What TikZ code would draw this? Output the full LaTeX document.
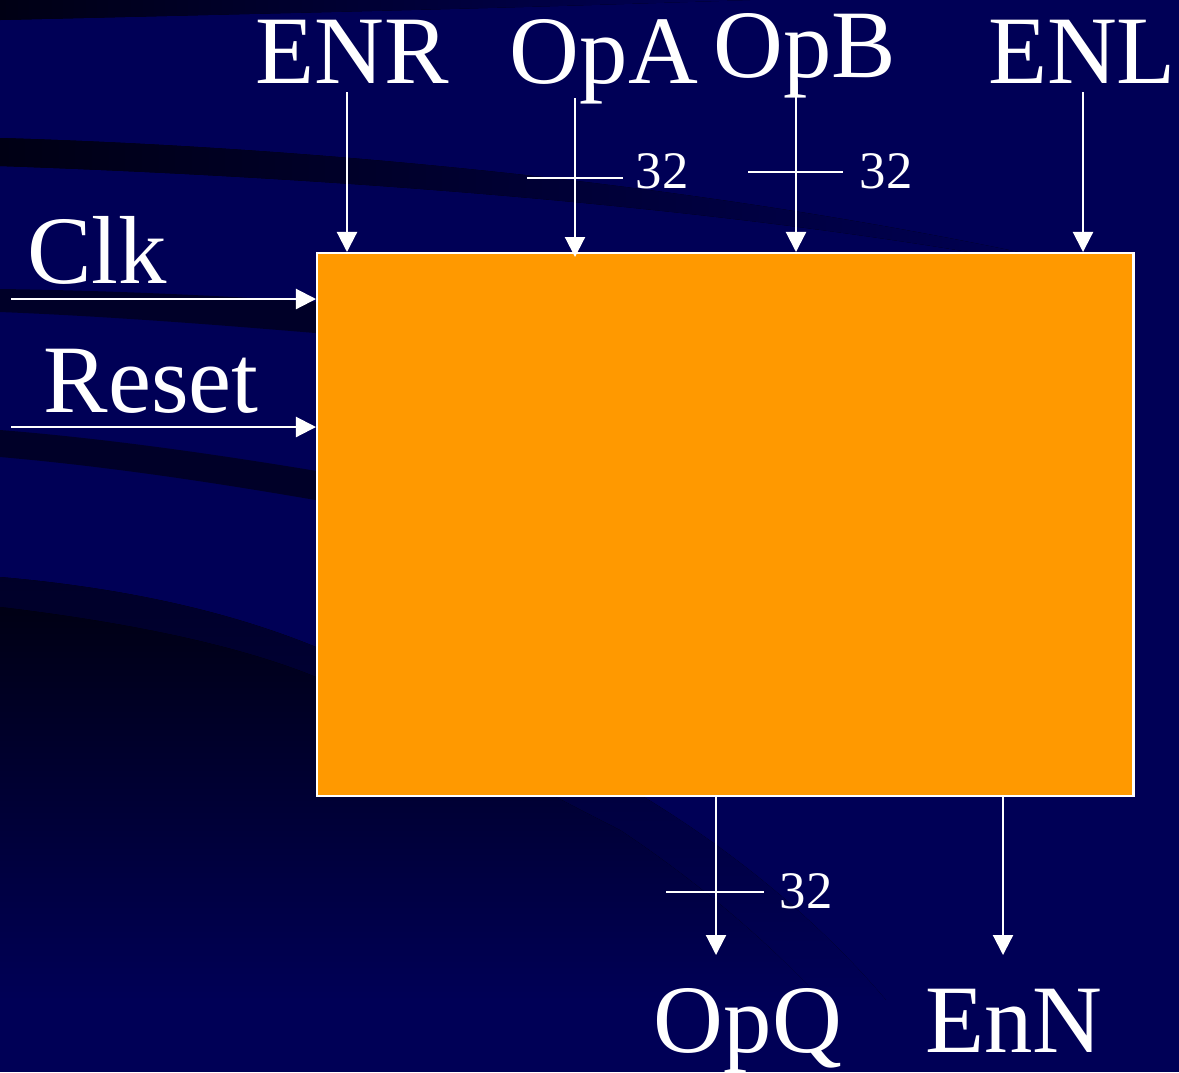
\documentclass[tikz,border=0pt]{standalone}
\usepackage{fontspec}
\setmainfont{Liberation Serif}
\usetikzlibrary{arrows.meta}
\definecolor{bgnavy}{RGB}{0,0,86}
\definecolor{darknavy}{RGB}{0,0,40}
\definecolor{deepnavy}{RGB}{0,0,20}
\definecolor{boxorange}{RGB}{255,153,0}
\tikzset{
  sig/.style={draw=white, line width=0.6pt, -{Triangle[length=0.2cm,width=0.2cm]}},
  buswidth/.style={draw=white, line width=0.6pt},
  biglabel/.style={text=white, font=\fontsize{27.5}{27.5}\selectfont, anchor=base, inner sep=0pt},
  smalllabel/.style={text=white, font=\fontsize{15}{15}\selectfont, anchor=base, inner sep=0pt},
  block/.style={draw=white, fill=boxorange, line width=0.6pt, inner sep=0pt, anchor=north west},
}
\begin{document}
\begin{tikzpicture}[x=0.01cm, y=-0.01cm]
  \useasboundingbox (0,0) rectangle (1179,1072);
  % background
  \fill[bgnavy] (0,0) rectangle (1179,1072);
  \fill[left color=deepnavy, right color=bgnavy] (0,0) -- (750,0) .. controls (500,8) .. (0,20) -- cycle;
  \fill[left color=deepnavy, right color=bgnavy] (0,138) .. controls (400,150) and (800,200) .. (1100,270) -- (1100,276) .. controls (800,215) and (400,180) .. (0,166) -- cycle;
  \fill[darknavy] (0,289) .. controls (150,291) and (300,300) .. (400,308) -- (400,340) .. controls (300,332) and (150,318) .. (0,312) -- cycle;
  \fill[darknavy] (0,430) .. controls (150,442) and (300,468) .. (400,485) -- (400,515) .. controls (300,497) and (150,470) .. (0,457) -- cycle;
  \begin{scope}
    \clip (0,577) .. controls (150,590) and (250,620) .. (316,647) .. controls (450,700) and (560,760) .. (644,797) .. controls (780,880) and (880,980) .. (940,1072) -- (0,1072) -- cycle;
    \fill[top color=darknavy, bottom color=bgnavy] (0,577) rectangle (1000,1000);
  \end{scope}
  \begin{scope}
    \clip (0,607) .. controls (150,625) and (250,650) .. (316,677) .. controls (450,740) and (560,800) .. (620,830) .. controls (740,910) and (830,1000) .. (880,1072) -- (0,1072) -- cycle;
    \fill[top color=deepnavy, bottom color=bgnavy] (0,607) rectangle (1000,1000);
  \end{scope}

  % block
  \node[block, minimum width=8.16cm, minimum height=5.43cm] (box) at (316,252) {};

  % labels
  \node[biglabel] (enr) at (352,83) {ENR};
  \node[biglabel] (opa) at (604,83) {OpA};
  \node[biglabel] (opb) at (805,77) {OpB};
  \node[biglabel] (enl) at (1082,83) {ENL};
  \node[biglabel] (clk) at (97,283) {Clk};
  \node[biglabel] (reset) at (151,412) {Reset};
  \node[biglabel] (opq) at (748,1052) {OpQ};
  \node[biglabel] (enn) at (1014,1052) {EnN};

  % arrow end points
  \coordinate (enrT) at (347,92);
  \coordinate (opaT) at (575,98);
  \coordinate (opbT) at (796,95);
  \coordinate (enlT) at (1083,92);
  \coordinate (clkT) at (11,299);
  \coordinate (resetT) at (11,427);
  \coordinate (opqT) at (716,955);
  \coordinate (ennT) at (1003,955);

  % inputs
  \draw[sig] (enrT) -- (enrT |- box.north);
  \draw[sig] (opaT) -- ([yshift=-0.05cm]opaT |- box.north);
  \draw[sig] (opbT) -- (opbT |- box.north);
  \draw[sig] (enlT) -- (enlT |- box.north);
  \draw[sig] (clkT) -- (clkT -| box.west);
  \draw[sig] (resetT) -- (resetT -| box.west);
  % outputs
  \draw[sig] (opqT |- box.south) -- (opqT);
  \draw[sig] (ennT |- box.south) -- (ennT);

  % bus width marks
  \coordinate (tA1) at (527,178); \coordinate (tA2) at (623,178);
  \coordinate (tB1) at (748,172); \coordinate (tB2) at (843,172);
  \coordinate (tQ1) at (666,892); \coordinate (tQ2) at (764,892);
  \draw[buswidth] (tA1) -- (tA2);
  \draw[buswidth] (tB1) -- (tB2);
  \draw[buswidth] (tQ1) -- (tQ2);
  \node[smalllabel] (wa) at (662,188) {32};
  \node[smalllabel] (wb) at (886,188) {32};
  \node[smalllabel] (wq) at (806,908) {32};
\end{tikzpicture}
\end{document}
